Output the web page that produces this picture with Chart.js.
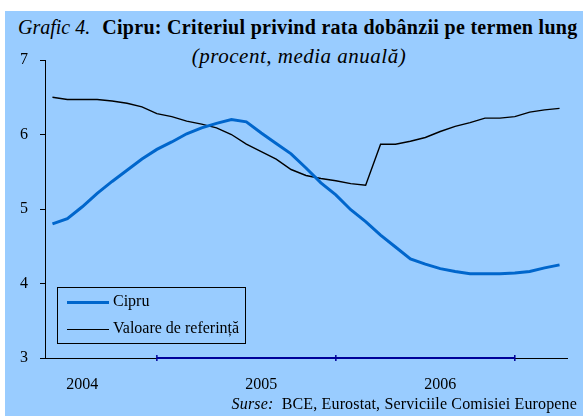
<!DOCTYPE html>
<html>
<head>
<meta charset="utf-8">
<script src="https://cdn.jsdelivr.net/npm/chart.js@4"></script>
<style>
    body { margin: 0; background: #fff; font-family: 'Liberation Serif', serif; }
    #panel { position: absolute; left: 5px; top: 11px; width: 578px; height: 405px; background: #99ccff; }
    #wrap { position: absolute; left: 0; top: 0; width: 583px; height: 416px; }
    .title { position: absolute; left: 18px; top: 16px; font-size: 20px; white-space: nowrap; }
    .title i { margin-right: 7px; }
    .title b { letter-spacing: 0.3px; }
    .subtitle { position: absolute; left: 0; width: 598px; top: 44px; text-align: center; font-size: 21px; font-style: italic; letter-spacing: 0.5px; }
    .source { position: absolute; right: 6px; top: 395px; font-size: 16px; letter-spacing: 0.15px; white-space: nowrap; }
    #legend { position: absolute; left: 57px; top: 287px; width: 187px; height: 55px; border: 1px solid #000; }
    .item { position: absolute; left: 9px; font-size: 16px; white-space: nowrap; }
    .item span { display: inline-block; width: 42px; vertical-align: middle; margin-right: 4px; }
</style>
</head>
<body>
<div id="panel"></div>
<div class="title"><i>Grafic 4.</i> <b>Cipru: Criteriul privind rata dobânzii pe termen lung</b></div>
<div class="subtitle">(procent, media anuală)</div>
<div id="wrap"><canvas id="chart" width="583" height="416"></canvas></div>
<div id="legend"></div>
<div class="source"><i>Surse:</i>&nbsp; BCE, Eurostat, Serviciile Comisiei Europene</div>
<script>
// luni, ian 2004 - nov 2006
const months = [];
for (let y = 2004; y <= 2006; y++) {
    for (let m = 1; m <= 12; m++) {
        if (months.length < 35) months.push(y + '-' + String(m).padStart(2, '0'));
    }
}

const tickLabels = months.map((_, i) => ({ 2: '2004', 14: '2005', 26: '2006' })[i] || '');

const cipru = [4.80, 4.87, 5.03, 5.21, 5.37, 5.52, 5.67, 5.80, 5.90, 6.01, 6.09, 6.15,
    6.20, 6.17, 6.02, 5.88, 5.74, 5.55, 5.35, 5.19, 4.99, 4.83, 4.65, 4.49,
    4.33, 4.26, 4.20, 4.16, 4.13, 4.13, 4.13, 4.14, 4.16, 4.21, 4.25];

const referinta = [6.50, 6.47, 6.47, 6.47, 6.45, 6.42, 6.37, 6.28, 6.24, 6.18, 6.14, 6.09,
    6.00, 5.87, 5.77, 5.67, 5.53, 5.45, 5.41, 5.38, 5.34, 5.32, 5.87, 5.87,
    5.91, 5.96, 6.04, 6.11, 6.16, 6.22, 6.22, 6.24, 6.30, 6.33, 6.35];

const seriesNames = ['Cipru', 'Valoare de referință'];
const axisMarks = [7, 19, 31];

const band = months.map((_, i) => (i >= axisMarks[0] && i <= axisMarks[axisMarks.length - 1]) ? 3 : null);

const serif = "'Liberation Serif', serif";

const ctx = document.getElementById('chart').getContext('2d');
new Chart(ctx, {
    type: 'line',
    data: {
        labels: months,
        datasets: [{
            label: seriesNames[0],
            data: cipru,
            borderColor: '#0066cc',
            borderWidth: 3,
            pointRadius: 0,
            tension: 0
        }, {
            label: seriesNames[1],
            data: referinta,
            borderColor: '#000',
            borderWidth: 1.4,
            pointRadius: 0,
            tension: 0
        }, {
            label: 'axa',
            data: band,
            borderColor: '#000099',
            borderWidth: 2,
            pointStyle: 'line',
            rotation: 90,
            pointRadius: ctx => axisMarks.includes(ctx.dataIndex) ? 3 : 0,
            pointBorderColor: '#000099',
            pointBorderWidth: 1.5,
            clip: false
        }]
    },
    options: {
        responsive: false,
        animation: false,
        layout: { padding: { left: 0, top: 60, right: 16, bottom: 0 } },
        plugins: {
            legend: { display: false },
            tooltip: { enabled: false }
        },
        scales: {
            x: {
                offset: true,
                afterFit: s => { s.height = 58; },
                grid: { display: false, drawTicks: false },
                border: { color: '#000', width: 1 },
                ticks: {
                    autoSkip: false,
                    maxRotation: 0,
                    padding: 17,
                    color: '#000',
                    font: { family: serif, size: 16 },
                    callback: (v, i) => tickLabels[i]
                }
            },
            y: {
                min: 3,
                max: 7,
                afterFit: s => { s.width = 45; },
                grid: { drawOnChartArea: false, tickLength: 5, color: '#000' },
                border: { color: '#000', width: 1 },
                ticks: {
                    stepSize: 1,
                    padding: 12,
                    color: '#000',
                    font: { family: serif, size: 16 }
                }
            }
        }
    }
});

// legenda cu chenar
const legend = document.getElementById('legend');
const styles = [{ c: '#0066cc', w: 3, top: 4 }, { c: '#000', w: 1.4, top: 31 }];
seriesNames.forEach((name, i) => {
    const d = document.createElement('div');
    d.className = 'item';
    d.style.top = styles[i].top + 'px';
    d.innerHTML = `<span style="border-top:${styles[i].w}px solid ${styles[i].c}"></span>${name}`;
    legend.appendChild(d);
});
</script>
</body>
</html>
